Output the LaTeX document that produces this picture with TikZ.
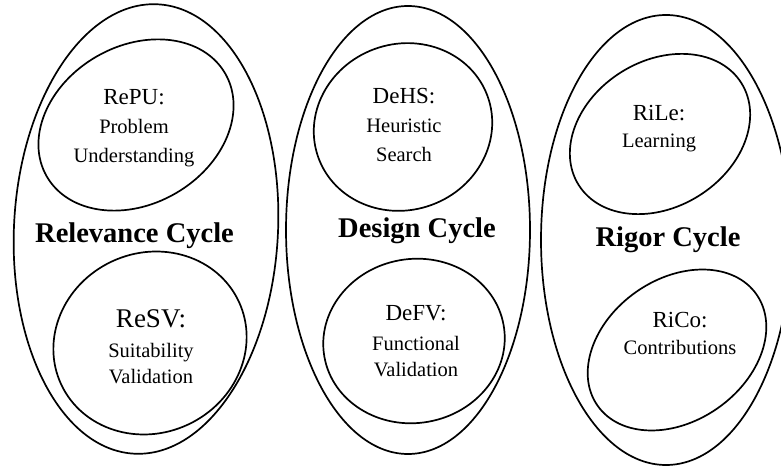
\documentclass[tikz,border=0pt]{standalone}
\usepackage{fontspec}
\setmainfont{Liberation Serif}
\usetikzlibrary{shapes.geometric}

\newcommand{\hd}[1]{{\fontsize{23}{29}\selectfont #1}}

\begin{document}
\begin{tikzpicture}[x=1pt, y=1pt,
		cyc/.style = {draw, ellipse, line width=1.7pt, inner sep=0pt},
		txt/.style = {align=center, anchor=base, inner sep=0pt, font=\fontsize{20.5}{29}\selectfont},
		lbl/.style = {anchor=base, inner sep=0pt, font=\fontsize{28.5}{34}\selectfont\bfseries}]
		\useasboundingbox (0,0) rectangle (781,468);
		% outer cycles
		\node[cyc, minimum width=264, minimum height=450, rotate=-3] (rel) at (146,239) {};
		\node[cyc, minimum width=244, minimum height=448] (des) at (408,238) {};
		\node[cyc, minimum width=250, minimum height=450] (rig) at (666,228) {};
		% inner activities
		\node[cyc, minimum width=206, minimum height=158, rotate=30] (repu) at (136,343) {};
		\node[cyc, minimum width=196, minimum height=180, rotate=25] (resv) at (150,125) {};
		\node[cyc, minimum width=180, minimum height=166, rotate=20] (dehs) at (403,341) {};
		\node[cyc, minimum width=182, minimum height=164, rotate=10] (defv) at (414,127) {};
		\node[cyc, minimum width=192, minimum height=146, rotate=32] (rile) at (660,334) {};
		\node[cyc, minimum width=194, minimum height=142, rotate=35] (rico) at (677,118) {};
		% texts (base = last line)
		\node[txt] (repuT) at (134,305) {\hd{RePU:}\\Problem\\Understanding};
		\node[txt] (resvT) at (151,84) {{\fontsize{27}{29}\selectfont ReSV:}\\[1pt]Suitability\\[-3pt]Validation};
		\node[txt] (dehsT) at (404,306) {\hd{DeHS:}\\Heuristic\\Search};
		\node[txt] (defvT) at (416,91) {\hd{DeFV:}\\[1pt]Functional\\[-3pt]Validation};
		\node[txt] (rileT) at (659,320) {\hd{RiLe:}\\[-2pt]Learning};
		\node[txt] (ricoT) at (680,113) {\hd{RiCo:}\\[-2pt]Contributions};
		\node[lbl] (relL) at (134.5,225) {Relevance Cycle};
		\node[lbl] (desL) at (417,230) {Design Cycle};
		\node[lbl] (rigL) at (668,221) {Rigor Cycle};
	\end{tikzpicture}
\end{document}
